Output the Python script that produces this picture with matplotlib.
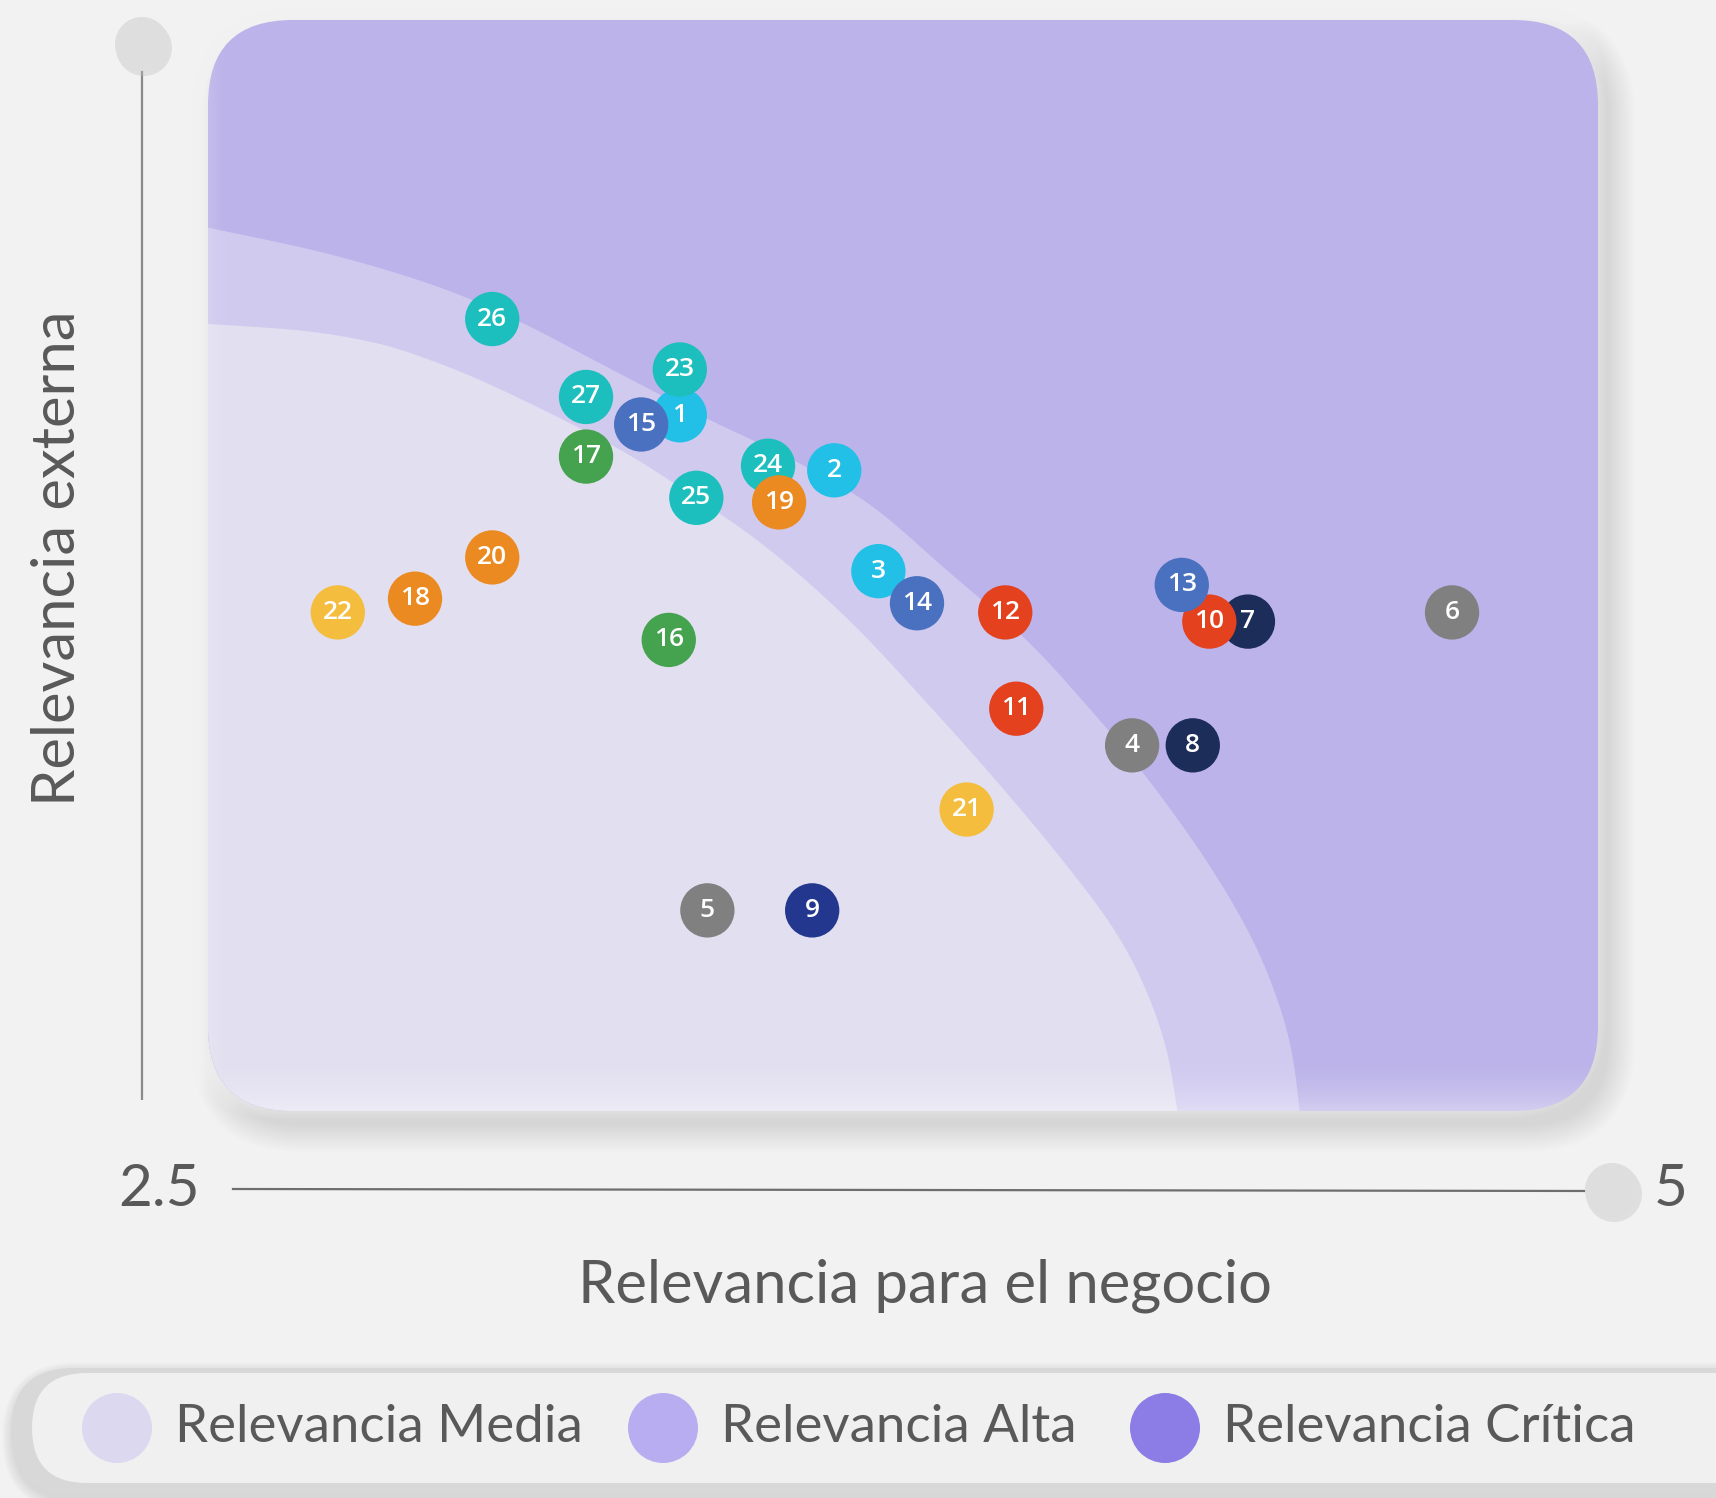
import numpy as np
import matplotlib.pyplot as plt
from matplotlib.patches import FancyBboxPatch, Circle, Polygon

W, H = 1716, 1498
plt.rcParams['font.family'] = ['Lato', 'DejaVu Sans']

# datos
etiquetas = [str(i) for i in range(1, 28)]
negocio = [3.31, 3.59, 3.67, 4.13, 3.36, 4.71, 4.34, 4.24, 3.55, 4.27, 3.92, 3.90, 4.22, 3.74,
           3.24, 3.29, 3.14, 2.83, 3.49, 2.97, 3.83, 2.69, 3.31, 3.47, 3.34, 2.97, 3.14]
externa = [4.19, 4.07, 3.85, 3.47, 3.11, 3.76, 3.74, 3.47, 3.11, 3.74, 3.55, 3.76, 3.82, 3.78,
           4.17, 3.70, 4.10, 3.79, 4.00, 3.88, 3.33, 3.76, 4.29, 4.08, 4.01, 4.40, 4.23]
colores = ['#22c0e6', '#22c0e6', '#22c0e6', '#808080', '#808080', '#808080', '#1c2d5a',
           '#1c2d5a', '#23378f', '#e4411f', '#e4411f', '#e4411f', '#4a70c0', '#4a70c0',
           '#4a70c0', '#45a24f', '#45a24f', '#ec8a22', '#ec8a22', '#ec8a22', '#f4bd3e',
           '#f4bd3e', '#1cbfbd', '#1cbfbd', '#1cbfbd', '#1cbfbd', '#1cbfbd']
orden = [1, 2, 3, 4, 5, 6, 7, 8, 9, 10, 11, 12, 13, 14, 15, 16, 17, 18, 24, 19, 20, 21, 22,
         23, 25, 26, 27]

x_ticks = [2.5, 5]
x_label = 'Relevancia para el negocio'
y_label = 'Relevancia externa'
niveles = ['Relevancia Media', 'Relevancia Alta', 'Relevancia Crítica']
colores_niveles = ['#dcd8f0', '#b8adf0', '#8b7ce6']

# contornos de las zonas (pixeles de la imagen reducida, se escalan)
s = 1716 / 1568
borde_ext = [(190, 208), (300, 232), (400, 262), (477, 295), (554, 335), (641, 380),
             (728, 422), (796, 462), (864, 520), (936, 583), (989, 640), (1042, 703),
             (1098, 780), (1140, 850), (1166, 910), (1181, 965), (1189, 1030)]
borde_int = [(190, 296), (274, 302), (332, 311), (379, 324), (449, 352), (554, 404),
             (624, 447), (700, 500), (777, 568), (852, 648), (909, 712), (966, 780),
             (1015, 845), (1045, 900), (1066, 960), (1078, 1030)]


def suavizar(p, n=16):
    p = np.array(p, dtype=float)
    p = np.vstack([p[0], p, p[-1]])
    out = []
    t = np.linspace(0, 1, n, endpoint=False)[:, None]
    for i in range(1, len(p) - 2):
        p0, p1, p2, p3 = p[i - 1], p[i], p[i + 1], p[i + 2]
        out.append(0.5 * (2 * p1 + (-p0 + p2) * t + (2 * p0 - 5 * p1 + 4 * p2 - p3) * t ** 2
                          + (-p0 + 3 * p1 - 3 * p2 + p3) * t ** 3))
    out.append(p[-2][None])
    return np.vstack(out) * s


fig = plt.figure(figsize=(W / 100, H / 100), dpi=100, facecolor='#f2f2f2')
bg = fig.add_axes([0, 0, 1, 1])
bg.set_xlim(0, W)
bg.set_ylim(H, 0)
bg.axis('off')

# panel
px0, py0, px1, py1 = 208, 20, 1598, 1111
rad = 85
for i in range(14):
    d = 2 + i * 4
    sh = FancyBboxPatch((px0 + 10 - d / 2, py0 + 14 - d / 2), px1 - px0 + d, py1 - py0 + d,
                        boxstyle=f'round,pad=0,rounding_size={rad + d / 2}',
                        fc='#808080', ec='none', alpha=0.017, zorder=1)
    bg.add_patch(sh)
for i in range(10):
    d = 4 + i * 4
    gl = FancyBboxPatch((px0 - 12 - d / 2, py0 - 12 - d / 2), px1 - px0 + d, py1 - py0 + d,
                        boxstyle=f'round,pad=0,rounding_size={rad + d / 2}',
                        fc='white', ec='none', alpha=0.07, zorder=1)
    bg.add_patch(gl)

panel = FancyBboxPatch((px0, py0), px1 - px0, py1 - py0,
                       boxstyle=f'round,pad=0,rounding_size={rad}',
                       fc='#bbb3e9', ec='none', zorder=2)
bg.add_patch(panel)

pts = np.vstack([suavizar(borde_ext), [(0, 1200), (0, 200)]])
z1 = Polygon(pts, closed=True, fc='#d0caef', ec='none', zorder=3)
bg.add_patch(z1)
z1.set_clip_path(panel)
pts = np.vstack([suavizar(borde_int), [(0, 1200), (0, 300)]])
z2 = Polygon(pts, closed=True, fc='#e2e0f0', ec='none', zorder=4)
bg.add_patch(z2)
z2.set_clip_path(panel)

# brillo inferior y lateral del panel
grad = np.zeros((60, 1, 4))
grad[:, 0, :3] = 1
grad[:, 0, 3] = np.linspace(0, 0.6, 60) ** 2
im = bg.imshow(grad, extent=(px0, px1, py1, py1 - 60), aspect='auto', zorder=5)
im.set_clip_path(panel)
grad2 = np.zeros((1, 30, 4))
grad2[0, :, :3] = 1
grad2[0, :, 3] = np.linspace(0.35, 0, 30) ** 2
im2 = bg.imshow(grad2, extent=(px0, px0 + 30, py1, py0), aspect='auto', zorder=5)
im2.set_clip_path(panel)
bg.set_xlim(0, W)
bg.set_ylim(H, 0)

# ejes decorativos
bg.plot([142, 142], [60, 1100], color='#8a8a8a', lw=1.6, zorder=6, solid_capstyle='butt')
bg.plot([233, 1595], [1189, 1191], color='#6e6e6e', lw=1.6, zorder=6)
for cx, cy in [(142, 44), (1612, 1190)]:
    bg.add_patch(Circle((cx + 2, cy + 4), 28, fc='#bdbdbd', ec='none', alpha=0.35, zorder=6))
    bg.add_patch(Circle((cx, cy), 27, fc='#dedede', ec='none', zorder=7))

tk = dict(color='#595959', ha='center', va='center')
bg.text(159, 1190, f'{x_ticks[0]:g}', fontsize=42, **tk)
bg.text(1671, 1190, f'{x_ticks[1]:g}', fontsize=42, **tk)
bg.text(925, 1286, x_label, fontsize=43, **tk)
bg.text(58, 558, y_label, fontsize=43, rotation=90, **tk)

# leyenda
ly0, ly1 = 1368, 1494
for i in range(8):
    d = 2 + i * 3
    sh = FancyBboxPatch((11 - d / 2 + 3, ly0 - d / 2 + 6), 1800 + d, ly1 - ly0 + d,
                        boxstyle=f'round,pad=0,rounding_size={(ly1 - ly0 + d) / 2}',
                        fc='#8a8a8a', ec='none', alpha=0.03, zorder=1)
    bg.add_patch(sh)
pill = FancyBboxPatch((11, ly0), 1800, ly1 - ly0,
                      boxstyle=f'round,pad=0,rounding_size={(ly1 - ly0) / 2}',
                      fc='#d8d8d8', ec='none', zorder=2)
bg.add_patch(pill)
pill2 = FancyBboxPatch((32, ly0 + 5), 1780, ly1 - ly0 - 16,
                       boxstyle=f'round,pad=0,rounding_size={(ly1 - ly0 - 16) / 2}',
                       fc='#f0f0f0', ec='none', zorder=3)
bg.add_patch(pill2)
leg_x = [117, 663, 1165]
for cx, nombre, col in zip(leg_x, niveles, colores_niveles):
    bg.add_patch(Circle((cx, 1428), 35, fc=col, ec='none', zorder=4))
    bg.text(cx + 58, 1428, nombre, fontsize=38, color='#595959', ha='left', va='center',
            zorder=5)

# puntos
ax = fig.add_axes([233 / W, (H - 1190) / H, (1612 - 233) / W, (1190 - 44) / H])
ax.set_xlim(2.5, 5)
ax.set_ylim(2.5, 5)
ax.axis('off')
ax.patch.set_alpha(0)
for k, n in enumerate(orden):
    i = n - 1
    ax.scatter(negocio[i], externa[i], s=1530, color=colores[i], edgecolors='none',
               zorder=10 + 2 * k, clip_on=False)
    ax.text(negocio[i], externa[i], etiquetas[i], color='white', fontsize=19,
            fontweight='semibold', family=['Open Sans', 'DejaVu Sans'], ha='center',
            va='center', zorder=11 + 2 * k, clip_on=False)

fig.savefig('out.png', dpi=100, facecolor=fig.get_facecolor())
